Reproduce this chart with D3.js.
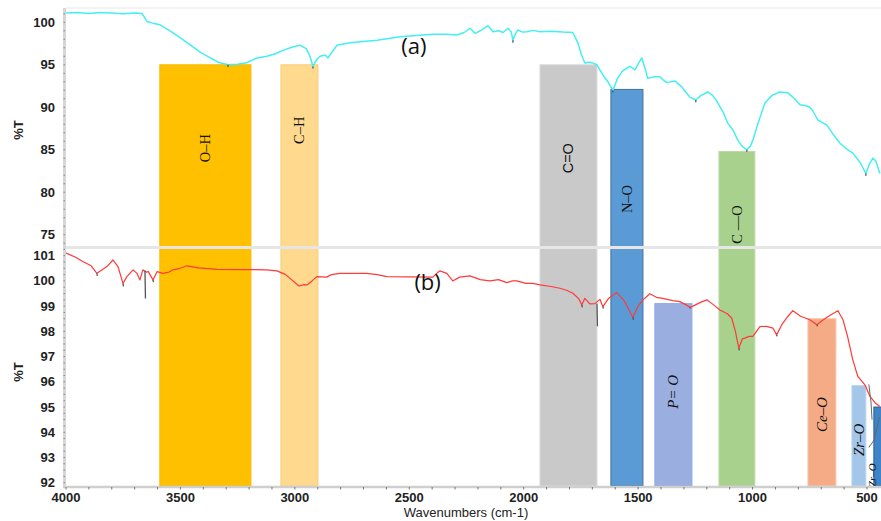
<!DOCTYPE html>
<html>
<head>
<meta charset="utf-8">
<script src="https://cdn.jsdelivr.net/npm/d3@7"></script>
<style>
  body { margin: 0; background: #fff; }
  text { font-family: "Liberation Sans", Arial, sans-serif; }
</style>
</head>
<body>
<svg id="chart" width="881" height="521"></svg>
<script>
// spectrum (a), upper panel
const wnA = [4000, 3950, 3900, 3850, 3800, 3750, 3700, 3668, 3646, 3620, 3589, 3545, 3502, 3460, 3414, 3375,
    3335, 3292, 3250, 3210, 3166, 3122, 3085, 3052, 3010, 2978, 2950, 2934, 2921, 2905, 2890, 2868, 2855, 2835,
    2816, 2759, 2700, 2641, 2590, 2541, 2470, 2397, 2340, 2292, 2260, 2235, 2213, 2190, 2156, 2134, 2110, 2090,
    2069, 2055, 2047, 2037, 2025, 2005, 1986, 1960, 1929, 1880, 1830, 1785, 1763, 1748, 1733, 1715, 1698, 1680,
    1667, 1654, 1632, 1610, 1590, 1571, 1550, 1536, 1514, 1495, 1484, 1470, 1458, 1430, 1405, 1390, 1375, 1340,
    1309, 1290, 1274, 1248, 1225, 1195, 1175, 1156, 1130, 1108, 1085, 1064, 1045, 1025, 1010, 999, 975, 946, 915,
    881, 846, 820, 793, 770, 750, 735, 715, 695, 675, 650, 619, 590, 562, 530, 505, 490, 474, 460, 444];
const tA = [101.1, 101.15, 101.05, 101.15, 101.1, 101.0, 101.1, 101.05, 100.1, 99.9, 99.7, 99.0, 98.2, 97.4, 96.5, 95.9,
    95.3, 95.0, 95.05, 95.25, 95.8, 96.0, 96.3, 96.7, 97.1, 97.3, 96.9, 96.0, 94.8, 95.6, 96.0, 96.15, 95.8, 96.6,
    97.3, 97.6, 97.75, 97.9, 98.1, 98.3, 98.45, 98.6, 98.6, 98.5, 98.8, 99.3, 98.7, 99.0, 99.6, 98.9, 99.0, 98.8,
    99.3, 98.9, 97.9, 98.6, 99.1, 98.85, 98.9, 99.05, 98.9, 98.95, 98.85, 98.8, 97.55, 96.2, 95.2, 95.3, 95.2, 95.0,
    94.4, 93.8, 93.0, 92.0, 93.4, 94.2, 94.6, 94.8, 94.4, 95.3, 95.8, 94.6, 93.4, 93.6, 93.6, 93.2, 92.9, 93.1,
    92.4, 91.7, 91.2, 90.85, 91.4, 91.8, 91.4, 90.7, 89.5, 88.1, 87.3, 86.1, 85.4, 85.0, 85.4, 86.1, 88.2, 90.5, 91.4,
    91.8, 91.7, 91.1, 90.3, 90.2, 90.0, 89.5, 88.5, 88.2, 87.9, 86.9, 85.8, 85.1, 84.6, 83.5, 82.2, 83.3, 84.0, 83.6, 82.2];

// spectrum (b), lower panel
const wnB = [4000, 3960, 3925, 3890, 3865, 3840, 3821, 3795, 3773, 3751, 3734, 3707, 3690, 3677, 3664, 3650, 3640,
    3620, 3602, 3576, 3550, 3530, 3502, 3472, 3420, 3340, 3250, 3180, 3122, 3078, 3040, 3021, 2982, 2960, 2947,
    2925, 2904, 2861, 2840, 2804, 2686, 2640, 2598, 2500, 2397, 2380, 2366, 2336, 2310, 2280, 2235, 2190, 2148,
    2110, 2074, 2050, 2030, 1990, 1960, 1929, 1880, 1842, 1810, 1785, 1760, 1746, 1733, 1711, 1689, 1667, 1654,
    1630, 1593, 1560, 1540, 1523, 1500, 1479, 1449, 1420, 1392, 1348, 1318, 1290, 1274, 1265, 1230, 1200, 1170,
    1143, 1110, 1091, 1075, 1060, 1045, 1034, 1015, 999, 968, 940, 911, 895, 870, 845, 824, 790, 750, 719, 700,
    675, 650, 627, 605, 585, 562, 540, 520, 509, 487, 465, 444];
const tB = [101.1, 100.95, 100.76, 100.6, 100.3, 100.45, 100.57, 100.83, 100.57, 99.9, 100.17, 100.44, 100.3, 100.04,
    100.44, 100.35, 100.37, 100.04, 100.37, 100.3, 100.35, 100.45, 100.5, 100.6, 100.52, 100.46, 100.45, 100.45,
    100.44, 100.4, 100.25, 100.1, 99.8, 99.85, 99.84, 100.0, 100.17, 100.15, 100.25, 100.3, 100.3, 100.25, 100.17,
    100.16, 100.15, 100.3, 100.4, 100.3, 100.0, 100.15, 100.2, 100.05, 100.0, 100.05, 99.93, 100.0, 100.0, 99.9,
    99.9, 99.84, 99.78, 99.71, 99.62, 99.51, 99.3, 99.05, 99.31, 99.09, 99.1, 99.27, 98.98, 99.3, 99.54, 99.2,
    98.85, 98.56, 99.0, 99.25, 99.49, 99.35, 99.31, 99.22, 99.18, 99.05, 98.96, 98.98, 99.14, 99.25, 99.05, 98.85,
    98.7, 98.52, 98.0, 97.33, 97.7, 97.73, 97.8, 97.8, 98.19, 98.2, 98.13, 97.86, 98.3, 98.6, 98.82, 98.6, 98.46,
    98.26, 98.4, 98.56, 98.7, 98.82, 98.46, 97.8, 96.87, 96.21, 96.0, 95.88, 95.42, 95.17, 95.02];

// peak picks: [wavenumber, from %T, to %T]
const peaksA = [[3292, 95.0, 94.75], [2921, 94.8, 94.55], [2047, 97.9, 97.6], [1610, 92.0, 91.75],
    [1248, 90.85, 90.6], [1025, 85.0, 84.75], [505, 82.2, 81.95]];
const peaksB = [[3865, 100.3, 100.2], [3751, 99.9, 99.78], [3655, 100.4, 99.3], [3620, 100.04, 99.95],
    [1746, 99.05, 98.95], [1680, 99.1, 98.2], [1654, 98.98, 98.9], [1523, 98.56, 98.46], [1274, 98.96, 98.9],
    [1060, 97.33, 97.25], [895, 97.86, 97.8], [719, 98.26, 98.2]];

// assignment bands
const bandNames = ['O\u2013H', 'C\u2013H', 'C=O', 'N\u2013O', 'C \u2014O', 'P= O', 'Ce\u2013O', 'Zr\u2013O', 'Zr\u2013O '];
const bandFrom = [3590, 3061, 1929, 1619, 1147, 1427, 758, 566, 470];
const bandTo = [3192, 2899, 1680, 1479, 990, 1265, 636, 505, 420];
const bandTop = [95, 95, 95, 92.1, 84.8, 99.1, 98.5, 95.85, 95.0];
const bandPanel = ['a', 'a', 'a', 'a', 'a', 'b', 'b', 'b', 'b'];
const bandLabelAt = [85.2, 87.3, 84.0, 79.2, 76.2, 95.6, 94.7, 93.7, 92.3];

const xTicks = [4000, 3500, 3000, 2500, 2000, 1500, 1000, 500];
const yTicksA = [100, 95, 90, 85, 80, 75];
const yTicksB = [101, 100, 99, 98, 97, 96, 95, 94, 93, 92];

const lookupBandStyle = {
    'O\u2013H': {fill: '#FFC000', stroke: '#F5BA00', font: 'serif'},
    'C\u2013H': {fill: '#FFD98E', stroke: '#F9CF7E', font: 'serif'},
    'C=O': {fill: '#C9C9C9', stroke: '#DADADA', font: 'sans'},
    'N\u2013O': {fill: '#5B9BD5', stroke: '#41719C', font: 'serif'},
    'C \u2014O': {fill: '#A9D18E', stroke: '#BBD9A6', font: 'serif'},
    'P= O': {fill: '#9BAEE0', stroke: '#8FA9E8', font: 'italic'},
    'Ce\u2013O': {fill: '#F5AB86', stroke: '#F8C2A5', font: 'italic'},
    'Zr\u2013O': {fill: '#A4C6E8', stroke: '#BCD6F0', font: 'italic'},
    'Zr\u2013O ': {fill: '#3D84C8', stroke: '#2B5F94', font: 'italic'}
};

const W = 881, H = 521;
const plotLeft = 66, plotTop = 8, plotSplit = 247.5, plotBottom = 487;

let svg = d3.select("#chart");

let x = d3.scaleLinear().domain([4000, 500]).range([plotLeft, 867]);
let yA = d3.scaleLinear().domain([100, 75]).range([22.3, 234.7]);
let yB = d3.scaleLinear().domain([101, 92]).range([255.7, 482.7]);
let panelScale = {a: yA, b: yB};

svg.append("defs").append("clipPath")
    .attr("id", "plot-clip")
    .append("rect")
    .attr("x", plotLeft)
    .attr("y", plotTop)
    .attr("width", W - plotLeft)
    .attr("height", plotBottom - plotTop);

let plot = svg.append("g").attr("clip-path", "url(#plot-clip)");

// top frame line
svg.append("line")
    .attr("x1", plotLeft).attr("x2", W)
    .attr("y1", plotTop).attr("y2", plotTop)
    .attr("stroke", "#efefef").attr("stroke-width", 1.5);

// bands
let bands = bandNames.map((n, i) => ({name: n, from: bandFrom[i], to: bandTo[i], top: bandTop[i],
    panel: bandPanel[i], labelAt: bandLabelAt[i]}));

plot.selectAll("rect.band")
    .data(bands)
    .enter().append("rect")
    .attr("class", "band")
    .attr("x", d => x(d.from))
    .attr("width", d => x(d.to) - x(d.from))
    .attr("y", d => panelScale[d.panel](d.top))
    .attr("height", d => plotBottom - 1 - panelScale[d.panel](d.top))
    .attr("fill", d => lookupBandStyle[d.name].fill)
    .attr("stroke", d => lookupBandStyle[d.name].stroke)
    .attr("stroke-width", 1);

// spectra
let line = d3.line()
    .x(d => x(d[0]))
    .y(d => d[2](d[1]));

plot.append("path")
    .datum(wnA.map((w, i) => [w, tA[i], yA]))
    .attr("fill", "none")
    .attr("stroke", "#45EEF2")
    .attr("stroke-width", 1.5)
    .attr("stroke-linejoin", "round")
    .attr("d", line);

plot.append("path")
    .datum(wnB.map((w, i) => [w, tB[i], yB]))
    .attr("fill", "none")
    .attr("stroke", "#FF3A3A")
    .attr("stroke-width", 1.2)
    .attr("stroke-linejoin", "round")
    .attr("d", line);

// peak picks
plot.selectAll("line.peakA")
    .data(peaksA)
    .enter().append("line")
    .attr("x1", d => x(d[0])).attr("x2", d => x(d[0]))
    .attr("y1", d => yA(d[1])).attr("y2", d => yA(d[2]))
    .attr("stroke", "#555").attr("stroke-width", 1.3);

plot.selectAll("line.peakB")
    .data(peaksB)
    .enter().append("line")
    .attr("x1", d => x(d[0])).attr("x2", d => x(d[0]) + 0.5)
    .attr("y1", d => yB(d[1])).attr("y2", d => yB(d[2]))
    .attr("stroke", "#555").attr("stroke-width", 1.3);

// callout strokes near the Zr-O bands
plot.append("path")
    .attr("d", "M" + x(492) + "," + yB(95.9) + " Q" + x(480) + "," + yB(95.2) + " " + x(478) + "," + yB(94.5))
    .attr("fill", "none").attr("stroke", "#666").attr("stroke-width", 1);
plot.append("path")
    .attr("d", "M" + x(446) + "," + yB(94.6) + " L" + x(468) + "," + yB(93.7) + " L" + x(492) + "," + yB(93.4))
    .attr("fill", "none").attr("stroke", "#666").attr("stroke-width", 1);

// band labels
let labelSize = d => d.name == 'Zr\u2013O ' ? '11px' : (lookupBandStyle[d.name].font == 'italic' ? '15px' : '14.5px');
let labelX = d => d.name == 'Zr\u2013O ' ? 876 : x((d.from + d.to) / 2) + 5;

svg.selectAll("text.band-label")
    .data(bands)
    .enter().append("text")
    .attr("class", "band-label")
    .attr("transform", d => "translate(" + labelX(d) + "," + panelScale[d.panel](d.labelAt) + ") rotate(-90)")
    .attr("text-anchor", "middle")
    .style("font-family", d => lookupBandStyle[d.name].font == 'sans' ? '"Liberation Sans", Arial, sans-serif' : '"Liberation Serif", "Times New Roman", serif')
    .style("font-style", d => lookupBandStyle[d.name].font == 'italic' ? 'italic' : 'normal')
    .style("font-size", labelSize)
    .attr("fill", "#111")
    .text(d => d.name);

// panel separator
svg.append("line")
    .attr("x1", plotLeft).attr("x2", W)
    .attr("y1", plotSplit).attr("y2", plotSplit)
    .attr("stroke", "#e6e6e6").attr("stroke-width", 3);

// series tags
svg.append("text")
    .attr("x", x(2480)).attr("y", 54)
    .attr("text-anchor", "middle")
    .style("font-size", "22px")
    .style("font-family", '"Open Sans", "Liberation Sans", sans-serif')
    .attr("fill", "#111")
    .text("(a)");

svg.append("text")
    .attr("x", x(2420)).attr("y", 290)
    .attr("text-anchor", "middle")
    .style("font-size", "22px")
    .style("font-family", '"Open Sans", "Liberation Sans", sans-serif')
    .attr("fill", "#111")
    .text("(b)");

// left axis band with minor dots
svg.append("line")
    .attr("x1", plotLeft - 1.5).attr("x2", plotLeft - 1.5)
    .attr("y1", plotTop).attr("y2", plotBottom)
    .attr("stroke", "#d6d6d6").attr("stroke-width", 3);

let minorA = d3.range(74, 102, 1), minorB = d3.range(92, 101.3, 0.25);
svg.selectAll("rect.minorA")
    .data(minorA)
    .enter().append("rect")
    .attr("x", plotLeft - 2.5).attr("y", d => yA(d) - 0.5)
    .attr("width", 1.5).attr("height", 1)
    .attr("fill", "#888");
svg.selectAll("rect.minorB")
    .data(minorB)
    .enter().append("rect")
    .attr("x", plotLeft - 2.5).attr("y", d => yB(d) - 0.5)
    .attr("width", 1.5).attr("height", 1)
    .attr("fill", "#888");

// y tick labels
svg.selectAll("text.ytA")
    .data(yTicksA)
    .enter().append("text")
    .attr("x", 55).attr("y", d => yA(d) + 4.5)
    .attr("text-anchor", "end")
    .style("font-size", "13px").style("font-weight", "bold")
    .attr("fill", "#222")
    .text(d => d);

svg.selectAll("text.ytB")
    .data(yTicksB)
    .enter().append("text")
    .attr("x", 55).attr("y", d => yB(d) + 4.5)
    .attr("text-anchor", "end")
    .style("font-size", "13px").style("font-weight", "bold")
    .attr("fill", "#222")
    .text(d => d);

// x axis
svg.append("line")
    .attr("x1", plotLeft - 3).attr("x2", W)
    .attr("y1", plotBottom).attr("y2", plotBottom)
    .attr("stroke", "#cfcfcf").attr("stroke-width", 2.5);

svg.selectAll("line.xminor")
    .data(d3.range(4000, 400, -100))
    .enter().append("line")
    .attr("x1", d => x(d)).attr("x2", d => x(d))
    .attr("y1", plotBottom).attr("y2", plotBottom + 2.5)
    .attr("stroke", "#777").attr("stroke-width", 1);

svg.selectAll("text.xt")
    .data(xTicks)
    .enter().append("text")
    .attr("x", d => x(d)).attr("y", 502)
    .attr("text-anchor", "middle")
    .style("font-size", "13px").style("font-weight", "bold")
    .attr("fill", "#222")
    .text(d => d);

svg.append("text")
    .attr("x", 466).attr("y", 517)
    .attr("text-anchor", "middle")
    .style("font-size", "13px")
    .attr("fill", "#222")
    .text("Wavenumbers (cm-1)");

// y titles
[[130], [372]].forEach(p => {
    svg.append("text")
        .attr("transform", "translate(23," + p[0] + ") rotate(-90)")
        .attr("text-anchor", "middle")
        .style("font-size", "13px").style("font-weight", "bold")
        .attr("fill", "#222")
        .text("%T");
});
</script>
</body>
</html>
